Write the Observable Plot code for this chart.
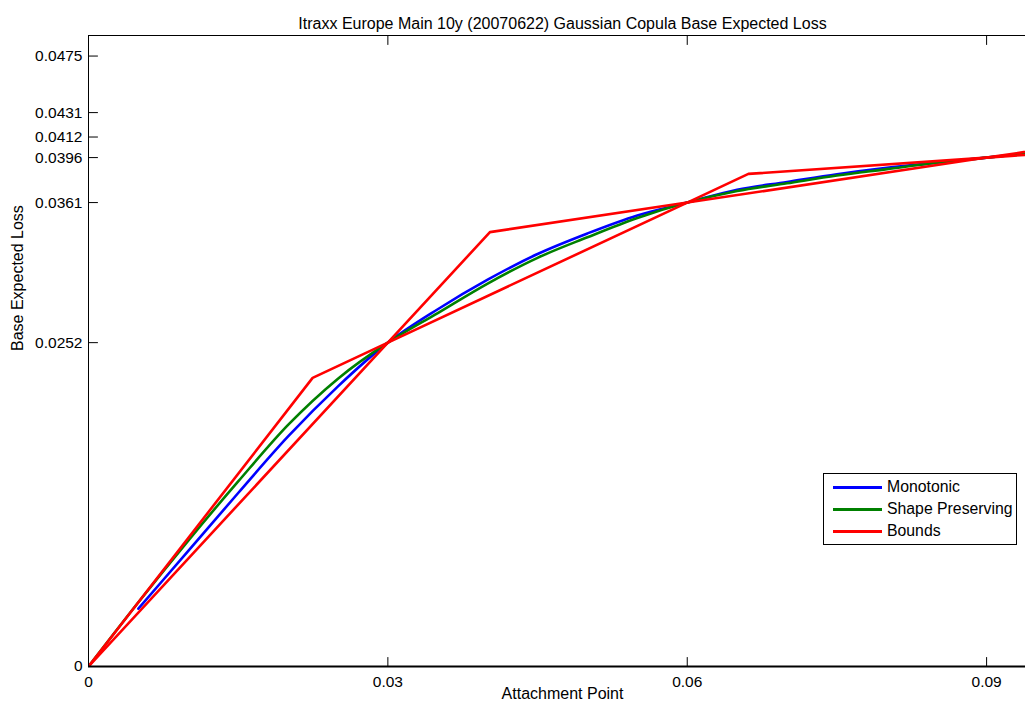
<!DOCTYPE html>
<html><head><meta charset="utf-8">
<script src="https://cdn.jsdelivr.net/npm/d3@7"></script>
<script src="https://cdn.jsdelivr.net/npm/@observablehq/plot@0.6"></script>
<style>
html,body{margin:0;padding:0;background:#fff;overflow:hidden;}
#wrap{position:relative;width:1025px;height:706px;overflow:hidden;font-family:"Liberation Sans",Arial,sans-serif;}
#wrap svg{overflow:hidden;}
#legend{position:absolute;left:823px;top:473px;width:194px;height:72px;border:1px solid #000;background:#fff;box-sizing:border-box;}
.row{position:absolute;left:9px;height:20px;display:flex;align-items:center;font-size:15.8px;color:#000;white-space:nowrap;}
.sw{width:49px;height:0;border-top:3px solid;margin-right:5px;}
</style></head><body><div id="wrap"><div id="legend"></div></div>
<script>
const title = "Itraxx Europe Main 10y (20070622) Gaussian Copula Base Expected Loss";
const xLabel = "Attachment Point";
const yLabel = "Base Expected Loss";
const xTicks = [0, 0.03, 0.06, 0.09];
const xTickLabels = ["0", "0.03", "0.06", "0.09"];
const yTicks = [0, 0.0252, 0.0361, 0.0396, 0.0412, 0.0431, 0.0475];
const yTickLabels = ["0", "0.0252", "0.0361", "0.0396", "0.0412", "0.0431", "0.0475"];

const seriesNames = ["Monotonic", "Shape Preserving", "Bounds"];
const seriesColors = ["#0000ff", "#008000", "#ff0000"];

// Monotonic interpolation
const monoX = [0.005, 0.01, 0.015, 0.02, 0.025, 0.03, 0.035, 0.04, 0.045, 0.05, 0.055, 0.06, 0.065, 0.07, 0.075, 0.08, 0.085, 0.09, 0.095];
const monoY = [0.0045, 0.0090, 0.0135, 0.0179, 0.0218, 0.0252, 0.0278, 0.0301, 0.0321, 0.0337, 0.0351, 0.0361, 0.0371, 0.0377, 0.0383, 0.0388, 0.0392, 0.0396, 0.0400];
// Shape preserving interpolation
const shapeX = [0, 0.005, 0.01, 0.015, 0.02, 0.025, 0.03, 0.035, 0.04, 0.045, 0.05, 0.055, 0.06, 0.065, 0.07, 0.075, 0.08, 0.085, 0.09, 0.095];
const shapeY = [0, 0.0050, 0.0098, 0.0144, 0.0188, 0.0224, 0.0252, 0.0275, 0.0298, 0.0318, 0.0334, 0.0349, 0.0361, 0.0370, 0.0376, 0.0382, 0.0387, 0.0392, 0.0396, 0.0400];
// Bounds
const upperX = [0, 0.02246, 0.03, 0.04023, 0.06, 0.06613, 0.09, 0.1005, 0.12];
const upperY = [0, 0.02246, 0.0252, 0.0338, 0.0361, 0.03833, 0.0396, 0.0408, 0.0412];
const lowerX = [0, 0.03, 0.06, 0.09, 0.12];
const lowerY = [0, 0.0252, 0.0361, 0.0396, 0.0412];

const toRows = (xs, ys) => xs.map((x, i) => ({x, y: ys[i]}));
const mono = toRows(monoX, monoY);
const shape = toRows(shapeX, shapeY);
const upper = toRows(upperX, upperY);
const lower = toRows(lowerX, lowerY);

const xLab = new Map(xTicks.map((t, i) => [t, xTickLabels[i]]));
const yLab = new Map(yTicks.map((t, i) => [t, yTickLabels[i]]));
const tickShape = {draw(context, l) { context.moveTo(0, 0); context.lineTo(0, -l); }};
const font = "'Liberation Sans', Arial, sans-serif";
const lw = 2.6;

const chart = Plot.plot({
  width: 1025, height: 706,
  marginLeft: 88, marginRight: -11, marginTop: 35, marginBottom: 40,
  x: {domain: [0, 0.095]},
  y: {domain: [0, 0.0491]},
  style: {fontFamily: font, fontSize: "15.5px", background: "white", color: "black"},
  marks: [
    Plot.line(mono, {x: "x", y: "y", stroke: seriesColors[0], strokeWidth: lw, curve: "monotone-x", clip: true}),
    Plot.line(shape, {x: "x", y: "y", stroke: seriesColors[1], strokeWidth: lw, curve: "monotone-x", clip: true}),
    Plot.line(upper, {x: "x", y: "y", stroke: seriesColors[2], strokeWidth: lw, clip: true}),
    Plot.line(lower, {x: "x", y: "y", stroke: seriesColors[2], strokeWidth: lw, clip: true}),
    Plot.frame({stroke: "black", strokeWidth: 1}),
    Plot.ruleY([0], {stroke: "black", strokeWidth: 2}),
    Plot.vector(xTicks, {x: d => d, frameAnchor: "bottom", length: 9, rotate: 0, anchor: "start", shape: tickShape, stroke: "black", strokeWidth: 1}),
    Plot.vector(xTicks, {x: d => d, frameAnchor: "top", length: 9, rotate: 180, anchor: "start", shape: tickShape, stroke: "black", strokeWidth: 1}),
    Plot.vector(yTicks, {y: d => d, frameAnchor: "left", length: 9, rotate: 90, anchor: "start", shape: tickShape, stroke: "black", strokeWidth: 1}),
    Plot.axisX({ticks: xTicks, tickFormat: d => xLab.get(d), tickSize: 0, tickPadding: 9, label: null, fontSize: 15.5}),
    Plot.axisY({ticks: yTicks, tickFormat: d => yLab.get(d), tickSize: 0, tickPadding: 6, label: null, fontSize: 15.5}),
    Plot.text([title], {frameAnchor: "top", dy: -18, fontSize: 16, text: d => d}),
    Plot.text([xLabel], {frameAnchor: "bottom", dy: 32, fontSize: 16, text: d => d}),
    Plot.text([yLabel], {frameAnchor: "left", dx: -71, rotate: -90, fontSize: 16, text: d => d})
  ]
});
document.getElementById("wrap").prepend(chart);

const legend = document.getElementById("legend");
seriesNames.forEach((name, i) => {
  const row = document.createElement("div");
  row.className = "row";
  row.style.top = (3 + i * 22) + "px";
  const sw = document.createElement("div");
  sw.className = "sw";
  sw.style.borderTopColor = seriesColors[i];
  const label = document.createElement("span");
  label.textContent = name;
  row.appendChild(sw);
  row.appendChild(label);
  legend.appendChild(row);
});
</script></body></html>
